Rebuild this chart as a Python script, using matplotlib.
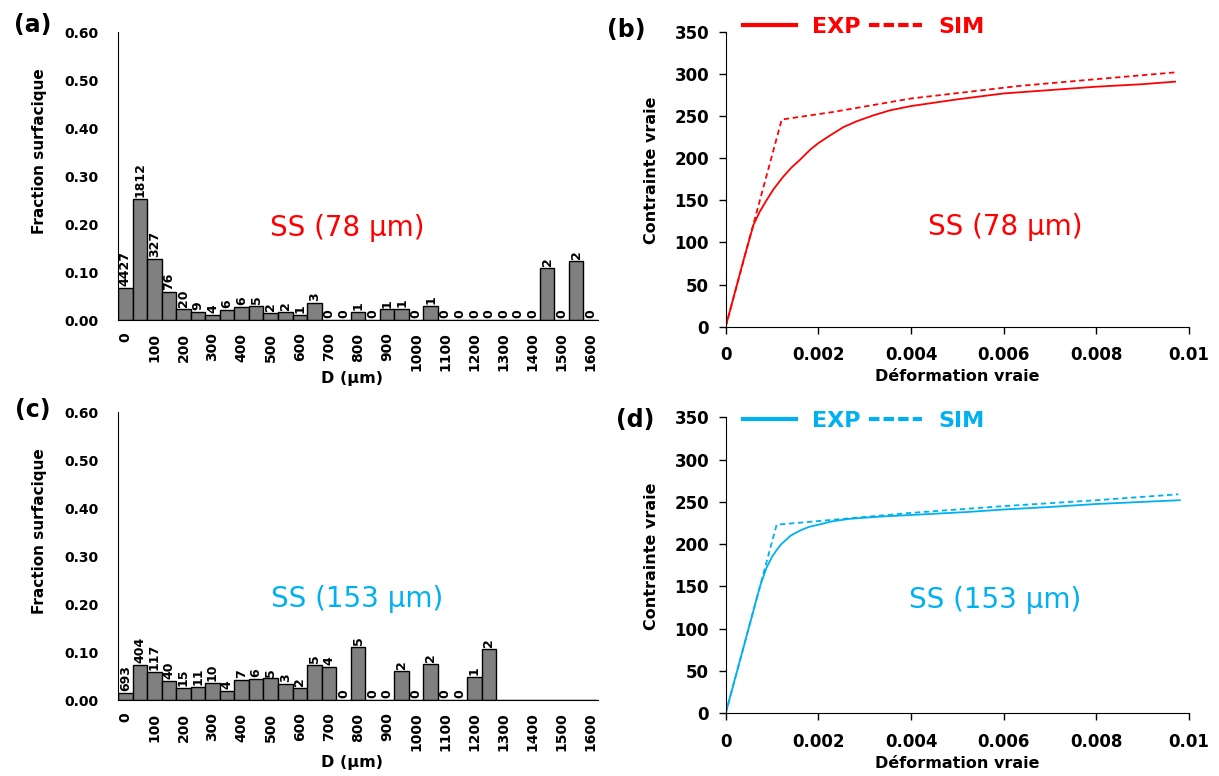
import numpy as np
import matplotlib
matplotlib.use('Agg')
import matplotlib.pyplot as plt
from matplotlib.lines import Line2D

# grain size classes (µm), one bar per 50 µm class
D_CLASSES = list(range(0, 1650, 50))

# (a) SS 78 µm : number of grains and area fraction per class
COUNTS_A = [4427, 1812, 327, 76, 20, 9, 4, 6, 6, 5, 2, 2, 1, 3, 0, 0, 1,
            0, 1, 1, 0, 1, 0, 0, 0, 0, 0, 0, 0, 2, 0, 2, 0]
FRAC_A = [0.067, 0.252, 0.127, 0.058, 0.024, 0.017, 0.011, 0.021, 0.028,
          0.029, 0.015, 0.017, 0.010, 0.035, 0.0, 0.0, 0.017, 0.0, 0.022,
          0.024, 0.0, 0.029, 0.0, 0.0, 0.0, 0.0, 0.0, 0.0, 0.0, 0.108, 0.0,
          0.124, 0.0]

# (c) SS 153 µm (no grains above 1250 µm)
COUNTS_C = [693, 404, 117, 40, 15, 11, 10, 4, 7, 6, 5, 3, 2, 5, 4, 0, 5,
            0, 0, 2, 0, 2, 0, 0, 1, 2, None, None, None, None, None, None, None]
FRAC_C = [0.014, 0.074, 0.059, 0.040, 0.025, 0.028, 0.035, 0.019, 0.042,
          0.044, 0.045, 0.033, 0.026, 0.074, 0.068, 0.0, 0.110, 0.0, 0.0,
          0.061, 0.0, 0.075, 0.0, 0.0, 0.049, 0.106, 0, 0, 0, 0, 0, 0, 0]

# (b) stress-strain, SS 78 µm
STRAIN_EXP_B = [0, 0.0002, 0.0004, 0.0006, 0.00074, 0.00088, 0.00103, 0.00124,
                0.00142, 0.0016, 0.00182, 0.002, 0.00225, 0.00254, 0.00283,
                0.00319, 0.00355, 0.004, 0.005, 0.006, 0.007, 0.008, 0.009, 0.0097]
STRESS_EXP_B = [0, 41, 82, 121, 137, 150, 163, 178, 189, 198, 210, 218, 227,
                237, 244, 251, 257, 262, 270, 277, 281, 285, 288, 291]
STRAIN_SIM_B = [0, 0.00121, 0.00232, 0.004, 0.00635, 0.0078, 0.0097]
STRESS_SIM_B = [0, 246, 255, 271, 286, 293, 302]

# (d) stress-strain, SS 153 µm
STRAIN_EXP_D = [0, 0.0004, 0.00074, 0.00088, 0.001, 0.0011, 0.0012, 0.00132,
                0.0014, 0.0016, 0.0018, 0.002, 0.0023, 0.00268, 0.0033, 0.004,
                0.0052, 0.006, 0.007, 0.008, 0.009, 0.0098]
STRESS_EXP_D = [0, 81, 150, 172, 185, 193, 200, 206, 210, 216, 220.5, 223,
                227, 230, 232.5, 234.5, 238, 241, 244, 247.5, 250, 252]
STRAIN_SIM_D = [0, 0.0011, 0.004, 0.006, 0.008, 0.00977]
STRESS_SIM_D = [0, 223, 237, 245, 252, 259]

RED = '#ff0000'
BLUE = '#00b0f0'


def plot_hist(ax, counts, frac, color, title, lab_y):
    idx = np.arange(len(D_CLASSES))
    heights = [f if c is not None else 0 for f, c in zip(frac, counts)]
    ax.bar(idx, heights, width=1.0, color='#808080', edgecolor='black', linewidth=1.0)
    for i, (c, h) in enumerate(zip(counts, heights)):
        if c is None:
            continue
        ax.text(i, h + 0.004, str(c), rotation=90, ha='center', va='bottom',
                fontsize=9, fontweight='semibold')
    ax.set_xlim(-0.5, len(D_CLASSES) - 0.5)
    ax.set_ylim(0, 0.6)
    ax.set_yticks(np.arange(0, 0.61, 0.1))
    ax.set_yticklabels([f'{v:.2f}' for v in np.arange(0, 0.61, 0.1)])
    ax.set_xticks(idx[::2])
    ax.set_xticklabels([str(d) for d in D_CLASSES[::2]], rotation=90)
    ax.tick_params(axis='y', length=0, pad=14, labelsize=10)
    ax.tick_params(axis='x', length=0, pad=9, labelsize=10)
    for lab in ax.get_xticklabels() + ax.get_yticklabels():
        lab.set_fontweight('bold')
    ax.spines['top'].set_visible(False)
    ax.spines['right'].set_visible(False)
    ax.set_ylabel('Fraction surfacique', fontsize=11, fontweight='bold')
    ax.yaxis.set_label_coords(-0.148, 0.587)
    ax.set_xlabel('D (µm)', fontsize=11.5, fontweight='bold')
    ax.xaxis.set_label_coords(0.4875, lab_y)
    ax.text(title[1], title[2], title[0], transform=ax.transAxes, color=color,
            fontsize=20, ha='center', va='center')


def plot_curve(ax, se, ss, me, ms, color, title, leg_y):
    ax.plot(se, ss, color=color, linewidth=1.3)
    ax.plot(me, ms, color=color, linewidth=1.3, linestyle=(0, (3, 2)))
    ax.set_xlim(0, 0.01)
    ax.set_ylim(0, 350)
    ax.set_xticks(np.arange(0, 0.0101, 0.002))
    ax.set_xticklabels(['0', '0.002', '0.004', '0.006', '0.008', '0.01'])
    ax.set_yticks(np.arange(0, 351, 50))
    ax.tick_params(direction='out', length=5, width=1, pad=7, labelsize=12)
    ax.tick_params(axis='x', pad=9)
    for lab in ax.get_xticklabels() + ax.get_yticklabels():
        lab.set_fontweight('bold')
    ax.spines['top'].set_visible(False)
    ax.spines['right'].set_visible(False)
    ax.set_ylabel('Contrainte vraie', fontsize=11.5, fontweight='bold')
    ax.yaxis.set_label_coords(-0.144, 0.53)
    ax.set_xlabel('Déformation vraie', fontsize=11.5, fontweight='bold')
    ax.xaxis.set_label_coords(0.499, -0.145)
    ax.text(title[1], title[2], title[0], transform=ax.transAxes, color=color,
            fontsize=20, ha='center', va='center')
    handles = [Line2D([], [], color=color, lw=3),
               Line2D([], [], color=color, lw=3, linestyle=(0, (2.5, 1)))]
    ax.legend(handles, ['EXP', 'SIM'], loc='center left',
              bbox_to_anchor=(0.037, leg_y), ncol=2, frameon=False,
              prop={'weight': 'bold', 'size': 16}, labelcolor=color,
              handlelength=2.4, handletextpad=0.7, columnspacing=0.4,
              borderpad=0, borderaxespad=0)


fig = plt.figure(figsize=(12.19, 7.76), dpi=100)
ax_a = fig.add_axes([0.0968, 0.5876, 0.3938, 0.3711])
ax_b = fig.add_axes([0.5953, 0.579, 0.3801, 0.3798])
ax_c = fig.add_axes([0.0968, 0.0979, 0.3938, 0.3711])
ax_d = fig.add_axes([0.5953, 0.0808, 0.3801, 0.3814])

plot_hist(ax_a, COUNTS_A, FRAC_A, RED, ('SS (78 µm)', 0.477, 0.319), -0.177)
plot_hist(ax_c, COUNTS_C, FRAC_C, BLUE, ('SS (153 µm)', 0.498, 0.35), -0.19)
plot_curve(ax_b, STRAIN_EXP_B, STRESS_EXP_B, STRAIN_SIM_B, STRESS_SIM_B, RED,
           ('SS (78 µm)', 0.603, 0.338), 1.017)
plot_curve(ax_d, STRAIN_EXP_D, STRESS_EXP_D, STRAIN_SIM_D, STRESS_SIM_D, BLUE,
           ('SS (153 µm)', 0.581, 0.383), 0.987)

for lab, x, y in [('(a)', 0.027, 0.968), ('(b)', 0.5135, 0.961),
                  ('(c)', 0.027, 0.472), ('(d)', 0.521, 0.459)]:
    fig.text(x, y, lab, fontsize=17, fontweight='bold', ha='center', va='center')

fig.savefig('out.png', dpi=100)
